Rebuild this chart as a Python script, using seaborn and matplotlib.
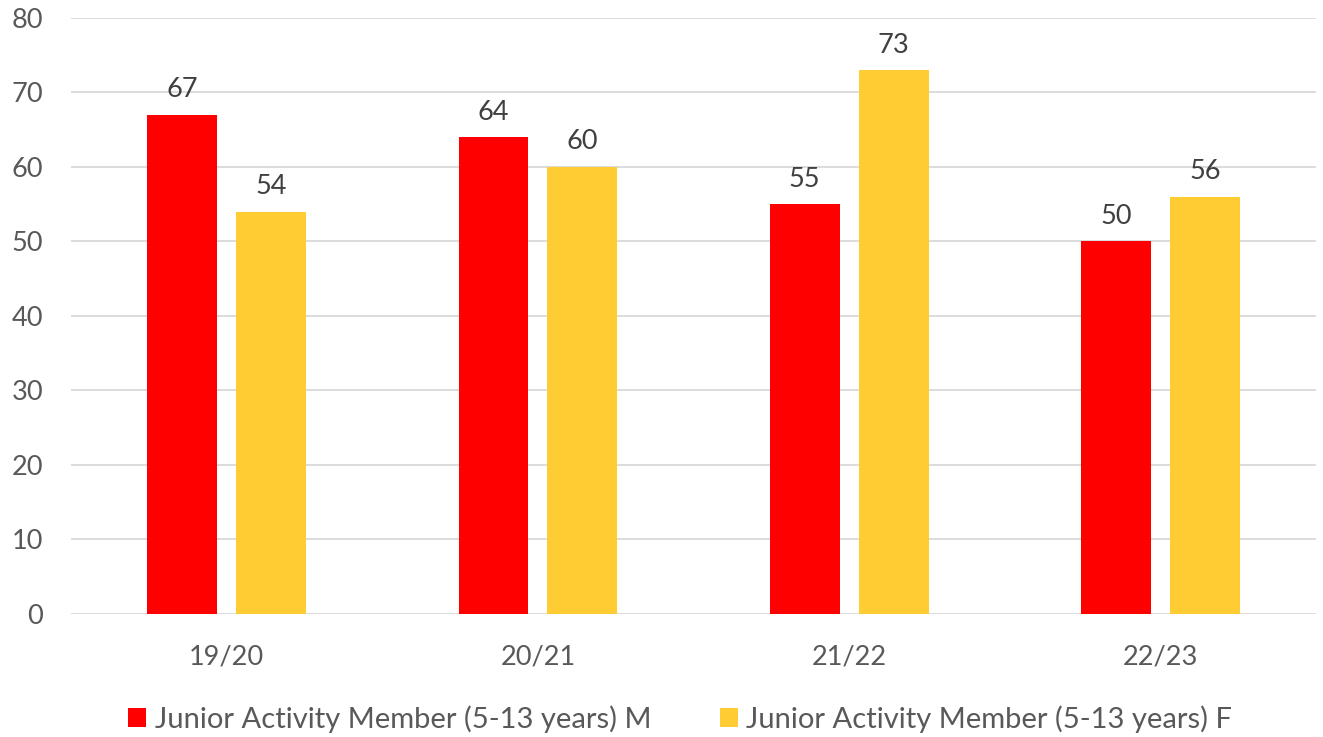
import pandas as pd
import matplotlib.pyplot as plt
import seaborn as sns

seasons = ["19/20", "20/21", "21/22", "22/23"]
male = [67, 64, 55, 50]
female = [54, 60, 73, 56]
series_names = ["Junior Activity Member (5-13 years) M",
                "Junior Activity Member (5-13 years) F"]

df = pd.DataFrame({
    "season": seasons * 2,
    "count": male + female,
    "series": [series_names[0]] * 4 + [series_names[1]] * 4,
})

sns.set_style("white")
plt.rcParams["font.family"] = ["Lato", "DejaVu Sans"]

fig = plt.figure(figsize=(13.23, 7.37), dpi=100)
ax = fig.add_axes([0.0537, 0.1669, 0.941, 0.8087])

sns.barplot(data=df, x="season", y="count", hue="series",
            palette=["#FF0000", "#FFCD33"], width=0.571, gap=0.213,
            saturation=1, linewidth=0, ax=ax, legend=True)

for c in ax.containers:
    ax.bar_label(c, padding=9, fontsize=19.5, color="#404040")

ax.set_ylim(0, 80)
ax.set_yticks(range(0, 81, 10))
ax.set_xlim(-0.5, 3.5)
ax.yaxis.grid(True, color="#D9D9D9", linewidth=1.3)
ax.set_axisbelow(True)
for s in ax.spines.values():
    s.set_visible(False)
ax.tick_params(axis="both", length=0, labelsize=19.5, labelcolor="#595959")
ax.tick_params(axis="y", pad=20)
ax.tick_params(axis="x", pad=22)
ax.set_xlabel("")
ax.set_ylabel("")

handles, labels = ax.get_legend_handles_labels()
ax.get_legend().remove()
fig.legend(handles, labels, loc="center", bbox_to_anchor=(0.514, 0.024),
           ncol=2, frameon=False, fontsize=21, handlelength=0.62,
           handleheight=0.62, handletextpad=0.3, columnspacing=2.35,
           labelcolor="#595959")

fig.savefig("out.png", dpi=100)
